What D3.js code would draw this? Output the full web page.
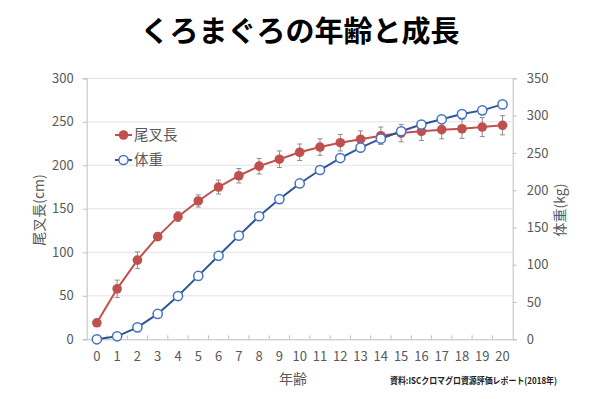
<!DOCTYPE html>
<html><head><meta charset="utf-8">
<script src="https://cdn.jsdelivr.net/npm/d3@7"></script>
<style>body{margin:0;background:#fff}svg{display:block}text{font-family:"Noto Sans CJK JP","Noto Sans",sans-serif}</style>
</head><body>
<svg id="c" width="600" height="399"></svg>
<script>
const ages = d3.range(0, 21);
const lengthCm = [19, 58, 91, 118, 141, 159, 175, 188, 199, 207, 215, 221, 226, 230, 234, 237, 239, 241, 242, 244, 246];
const lengthErr = [2, 10, 9.5, 4.5, 5.5, 7, 8, 8.3, 9, 9.5, 9.5, 9.5, 9.5, 9.5, 10, 10, 10.5, 10.5, 11, 11, 11];
const weightKg = [0, 4, 16, 34, 58, 85, 112, 139, 165, 188, 209, 227, 243, 257, 269, 279, 288, 295, 302, 307, 315];
const leftTicks = [0, 50, 100, 150, 200, 250, 300];
const rightTicks = [0, 50, 100, 150, 200, 250, 300, 350];
const seriesNames = ["尾叉長", "体重"];

const svg = d3.select("#c");
const L = 86.7, R = 512.7, T = 78.3, B = 339.3;
const x = d3.scaleBand().domain(ages).range([L, R]).padding(0);
const cx = d => x(d) + x.bandwidth() / 2;
const yL = d3.scaleLinear().domain([0, 300]).range([B, T]);
const yR = d3.scaleLinear().domain([0, 350]).range([B, T]);
const gray = "#595959", axisCol = "#BFBFBF", gridCol = "#E3E3E3";
const red = "#C0504D", blueLine = "#2F5597", blueMk = "#4472C4";

// title
svg.append("text").attr("x", 300).attr("y", 42).attr("text-anchor", "middle")
  .attr("font-size", 29).attr("font-weight", "bold").attr("fill", "#000")
  .text("くろまぐろの年齢と成長");

// gridlines
svg.append("g").selectAll("line").data(leftTicks.filter(d => d > 0)).join("line")
  .attr("x1", L).attr("x2", R).attr("y1", d => yL(d)).attr("y2", d => yL(d))
  .attr("stroke", gridCol).attr("stroke-width", 1);

// left axis
const ga = svg.append("g").attr("transform", `translate(${L},0)`)
  .call(d3.axisLeft(yL).tickValues(leftTicks).tickSize(4).tickPadding(9));
ga.select(".domain").attr("stroke", axisCol);
ga.selectAll(".tick line").attr("stroke", axisCol);
ga.selectAll("text").attr("font-size", 13).attr("fill", gray).attr("font-family", "'Noto Sans CJK JP',sans-serif");

// right axis
const gr = svg.append("g").attr("transform", `translate(${R},0)`)
  .call(d3.axisRight(yR).tickValues(rightTicks).tickSize(4).tickPadding(10));
gr.select(".domain").attr("stroke", axisCol);
gr.selectAll(".tick line").attr("stroke", axisCol);
gr.selectAll("text").attr("font-size", 13).attr("fill", gray).attr("font-family", "'Noto Sans CJK JP',sans-serif");

// bottom axis
const gb = svg.append("g").attr("transform", `translate(0,${B})`)
  .call(d3.axisBottom(x).tickSize(0).tickPadding(12));
gb.select(".domain").attr("stroke", axisCol);
gb.selectAll("text").attr("font-size", 13).attr("fill", gray).attr("font-family", "'Noto Sans CJK JP',sans-serif");
svg.append("g").selectAll("line").data(ages.slice(1)).join("line")
  .attr("x1", d => x(d)).attr("x2", d => x(d)).attr("y1", B).attr("y2", B - 4)
  .attr("stroke", axisCol);

// axis titles
svg.append("text").attr("transform", `translate(44,210) rotate(-90)`).attr("text-anchor", "middle")
  .attr("font-size", 14).attr("fill", gray).text("尾叉長(cm)");
svg.append("text").attr("transform", `translate(565,210) rotate(-90)`).attr("text-anchor", "middle")
  .attr("font-size", 14).attr("fill", gray).text("体重(kg)");
svg.append("text").attr("x", 293).attr("y", 384).attr("text-anchor", "middle")
  .attr("font-size", 14).attr("fill", gray).text("年齢");
svg.append("text").attr("x", 390).attr("y", 384).attr("font-size", 9).attr("font-weight", "bold")
  .attr("fill", "#222").attr("textLength", 167).attr("lengthAdjust", "spacingAndGlyphs")
  .text("資料:ISCクロマグロ資源評価レポート(2018年)");

// error bars
const eb = svg.append("g").attr("stroke", "#8C8C8C").attr("stroke-width", 1);
ages.forEach((a, i) => {
  const y1 = yL(lengthCm[i] - lengthErr[i]), y2 = yL(lengthCm[i] + lengthErr[i]);
  eb.append("line").attr("x1", cx(a)).attr("x2", cx(a)).attr("y1", y1).attr("y2", y2);
  eb.append("line").attr("x1", cx(a) - 2.5).attr("x2", cx(a) + 2.5).attr("y1", y1).attr("y2", y1);
  eb.append("line").attr("x1", cx(a) - 2.5).attr("x2", cx(a) + 2.5).attr("y1", y2).attr("y2", y2);
});

// lines
svg.append("path").datum(ages).attr("fill", "none").attr("stroke", red).attr("stroke-width", 2)
  .attr("d", d3.line().x(d => cx(d)).y((d, i) => yL(lengthCm[i])));
svg.append("path").datum(ages).attr("fill", "none").attr("stroke", blueLine).attr("stroke-width", 2)
  .attr("d", d3.line().x(d => cx(d)).y((d, i) => yR(weightKg[i])));

// markers
svg.append("g").selectAll("circle").data(ages).join("circle")
  .attr("cx", d => cx(d)).attr("cy", (d, i) => yL(lengthCm[i])).attr("r", 4.8).attr("fill", red);
svg.append("g").selectAll("circle").data(ages).join("circle")
  .attr("cx", d => cx(d)).attr("cy", (d, i) => yR(weightKg[i])).attr("r", 4.6)
  .attr("fill", "#fff").attr("stroke", blueMk).attr("stroke-width", 1.5);

// legend
const lg = svg.append("g");
[0, 1].forEach(k => {
  const ly = 135 + k * 25;
  lg.append("line").attr("x1", 115).attr("x2", 132).attr("y1", ly).attr("y2", ly)
    .attr("stroke", k ? blueLine : red).attr("stroke-width", 2);
  if (k) lg.append("circle").attr("cx", 123.5).attr("cy", ly).attr("r", 4.6).attr("fill", "#fff").attr("stroke", blueMk).attr("stroke-width", 1.5);
  else lg.append("circle").attr("cx", 123.5).attr("cy", ly).attr("r", 4.8).attr("fill", red);
  lg.append("text").attr("x", 134).attr("y", ly + 5).attr("font-size", 14.5).attr("fill", gray).text(seriesNames[k]);
});
</script>
</body></html>
